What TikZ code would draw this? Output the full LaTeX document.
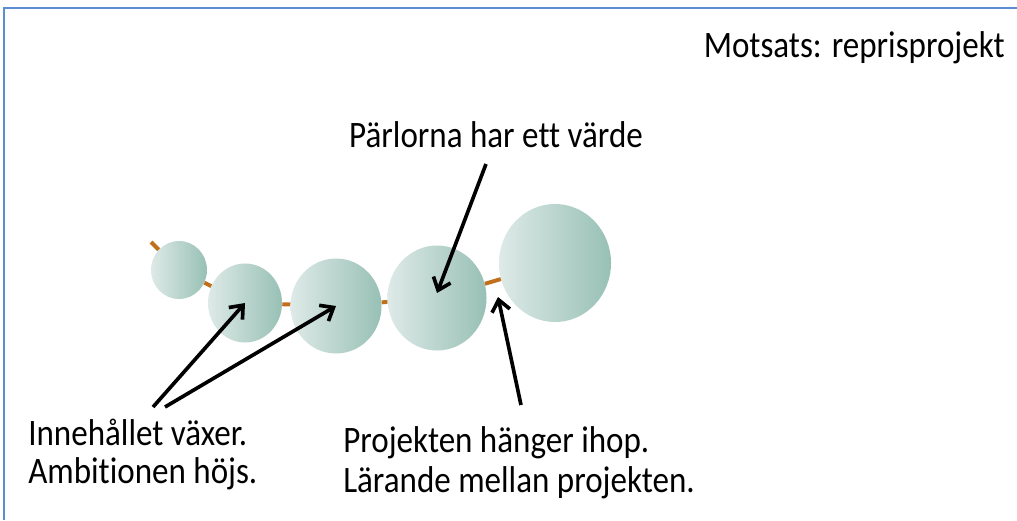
\documentclass[tikz,border=0pt]{standalone}
\usepackage{fontspec}
\setmainfont{Carlito}[Ligatures={NoCommon}]
\usepackage{tikz}
\usetikzlibrary{positioning,arrows.meta,calc,shapes.geometric}
\definecolor{framecol}{RGB}{91,141,208}
\definecolor{pearlL}{RGB}{222,234,231}
\definecolor{pearlR}{RGB}{152,192,181}
\definecolor{cordcol}{RGB}{192,112,26}
\newcommand{\hoeg}[1]{\scalebox{1}[1.13]{#1}}

\begin{document}
\begin{tikzpicture}[
    x=0.025cm, y=-0.025cm,
    font=\fontsize{23.5}{28}\selectfont,
    pearl/.style={ellipse, inner sep=0pt, left color=pearlL, right color=pearlR},
    cord/.style={line width=2.8pt, color=cordcol},
    pil/.style={-{Straight Barb[length=8pt, width=13pt]}, line width=2.6pt},
    lab/.style={inner sep=0pt},
]
\useasboundingbox (0,0) rectangle (1017,520);

% ---- Frame ----
\draw[framecol, line width=1.5pt] (4,520) -- (4,8) -- (1017,8);

% ---- Pearls ----
\node[pearl, minimum width=1.4cm, minimum height=1.45cm] (c1) at (179,270) {};
\node[pearl, minimum width=1.85cm, minimum height=1.975cm] (c2) at (245,303) {};
\node[pearl, minimum width=2.275cm, minimum height=2.375cm] (c3) at (336,306) {};
\node[pearl, minimum width=2.475cm, minimum height=2.625cm] (c4) at (437,298) {};
\node[pearl, minimum width=2.8cm, minimum height=2.95cm] (c5) at (555,263) {};

% ---- Cord ----
\coordinate (s0) at (151,242);
\draw[cord] (s0) -- (c1);
\draw[cord] (c1) -- (c2);
\draw[cord] (c2) -- (c3);
\draw[cord] (c3) -- (c4);
\draw[cord] (c4) -- (c5);

% ---- Texts ----
\node[lab, anchor=base east] (titel) at (1005,57) {\hoeg{Motsats: reprisprojekt}};
\node[lab, anchor=base] (parl) at (496,147) {\hoeg{Pärlorna har ett värde}};
\node[lab, anchor=base west] (inn) at (28,445) {\hoeg{Innehållet växer.}};
\node[lab, anchor=base west] (amb) at (28,483) {\hoeg{Ambitionen höjs.}};
\node[lab, anchor=base west] (proj) at (343,452) {\hoeg{Projekten hänger ihop.}};
\node[lab, anchor=base west] (lar) at (343,492) {\hoeg{Lärande mellan projekten.}};

% ---- Arrows ----
\coordinate (a1) at (153,407);
\coordinate (a2) at (165,407);
\coordinate (a3) at (486,164);
\coordinate (a4) at (521,405);
\coordinate (mitt) at (437,293);
\coordinate (knut) at (498,297);
\draw[pil] (a1) -- (c2.center);
\draw[pil] (a2) -- (c3.center);
\draw[pil] (a3) -- (mitt);
\draw[pil] (a4) -- (knut);

\end{tikzpicture}
\end{document}
